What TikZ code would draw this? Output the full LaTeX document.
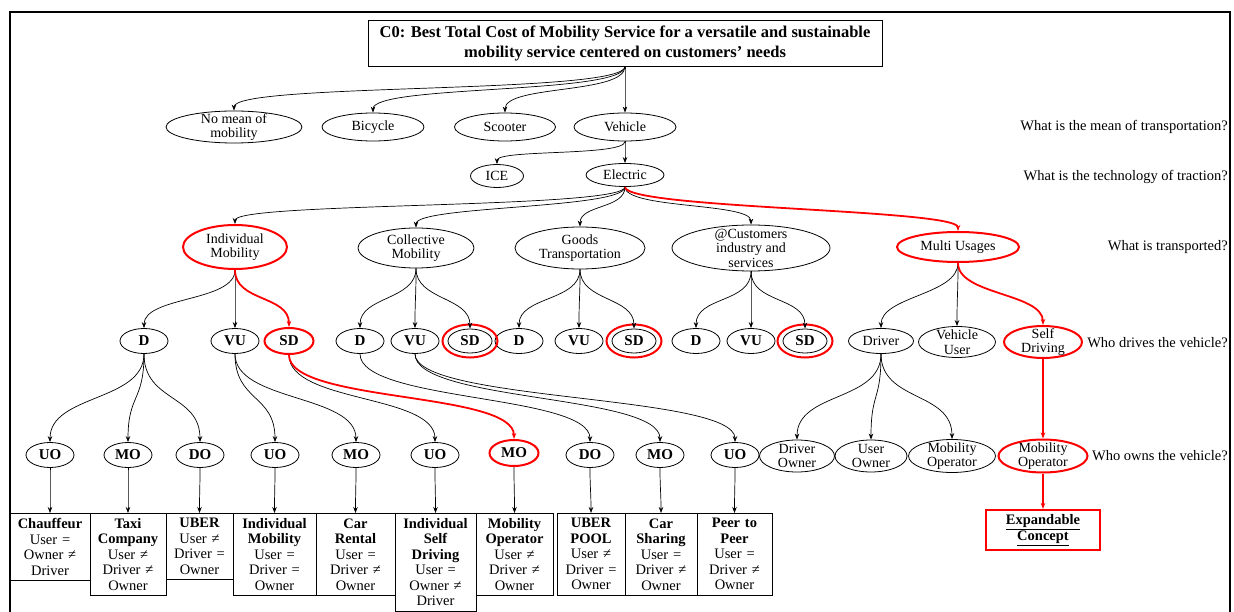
\documentclass[tikz,border=0pt]{standalone}
\usepackage{fontspec}
\setmainfont{Liberation Serif}
\usetikzlibrary{shapes.geometric,arrows.meta}
\tikzset{
  el/.style={draw, ellipse, inner sep=0pt, line width=0.8pt},
  hl/.style={draw=red, line width=2pt},
  lab/.style={font=\fontsize{14}{14.5}\selectfont, align=center, inner sep=0pt},
  ed/.style={draw=black, line width=0.7pt, -{Stealth[length=6pt,width=4.5pt]}},
  rd/.style={ed, draw=red, line width=1.8pt},
  bx/.style={draw, line width=0.8pt, anchor=north, align=center, inner xsep=1pt, inner ysep=5pt, font=\fontsize{14.5}{15.5}\selectfont},
  qn/.style={anchor=east, inner sep=0pt, font=\fontsize{14.5}{15}\selectfont},
}
\newcommand{\Ell}[7][]{\node[el, minimum width=#5pt, minimum height=#6pt, #1] (#2) at (#3,#4) {};\node[lab] (#2-t) at (#2.center) {#7};}
\newcommand{\Cv}[4][ed]{\draw[#1] (#2.south) .. controls +(0,#4) and +(0,-#4) .. (#3.north);}
\newcommand{\B}[1]{{\fontsize{15}{15}\selectfont\bfseries #1}}
\begin{document}
\begin{tikzpicture}[x=1pt,y=-1pt]
\useasboundingbox (0,0) rectangle (1234,612);
\draw[line width=2.5pt] (10,625) -- (10,12) -- (1230,12) -- (1230,625);

% root
\node[draw, line width=0.9pt, minimum width=514pt, minimum height=46pt, align=center,
      font=\fontsize{16.5}{20}\selectfont\bfseries] (c0) at (625,43)
  {C0: Best Total Cost of Mobility Service for a versatile and sustainable\\mobility service centered on customers’ needs};

% row 1
\Ell{nomob}{234}{127}{136}{32}{No mean of\\mobility}
\Ell{bic}{373}{127}{102}{28}{Bicycle}
\Ell{sco}{505}{127}{101}{28}{Scooter}
\Ell{veh}{625}{127}{102}{28}{Vehicle}
% row 2
\Ell{ice}{497}{176}{53}{23}{ICE}
\Ell{ele}{625}{175}{78}{23}{Electric}
% row 3
\Ell[hl]{ind}{235}{247}{104}{44}{Individual\\Mobility}
\Ell{col}{416}{248}{116}{40}{Collective\\Mobility}
\Ell{goo}{580}{248}{130}{42}{Goods\\Transportation}
\Ell{cus}{751}{248}{158}{46}{@Customers\\industry and\\services}
\Ell[hl]{mul}{958}{247}{122}{30}{Multi Usages}
% row 4
\Ell{d1}{144}{341}{48}{25}{\B{D}}
\Ell{vu1}{235}{341}{48}{25}{\B{VU}}
\Ell[hl]{sd1}{289}{341}{49}{26}{\B{SD}}
\Ell{d2}{360}{341}{48}{25}{\B{D}}
\Ell{vu2}{415}{341}{48}{25}{\B{VU}}
\Ell{sd2}{470}{341}{44}{24}{\B{SD}}
\Ell{d3}{519}{341}{48}{25}{\B{D}}
\Ell{vu3}{579}{341}{48}{25}{\B{VU}}
\Ell{sd3}{634}{341}{44}{24}{\B{SD}}
\Ell{d4}{696}{341}{48}{25}{\B{D}}
\Ell{vu4}{751}{341}{48}{25}{\B{VU}}
\Ell{sd4}{805}{341}{44}{24}{\B{SD}}
\draw[hl] (sd2.center) ellipse [x radius=27.5pt, y radius=16.5pt];
\draw[hl] (sd3.center) ellipse [x radius=27.5pt, y radius=16.5pt];
\draw[hl] (sd4.center) ellipse [x radius=27.5pt, y radius=16.5pt];
\Ell{drv}{881}{341}{65}{25}{Driver}
\Ell{vus}{957}{342}{77}{31}{Vehicle\\User}
\Ell[hl]{sdr}{1043}{342}{78}{32}{Self\\Driving}
% row 5
\Ell{uo1}{50}{455}{48}{25}{\B{UO}}
\Ell{mo1}{128}{455}{48}{25}{\B{MO}}
\Ell{do1}{200}{455}{48}{25}{\B{DO}}
\Ell{uo2}{275}{455}{48}{25}{\B{UO}}
\Ell{mo2}{356}{455}{48}{25}{\B{MO}}
\Ell{uo3}{435}{455}{48}{25}{\B{UO}}
\Ell[hl]{mo3}{514}{453}{49}{26}{\B{MO}}
\Ell{do2}{590}{455}{48}{25}{\B{DO}}
\Ell{mo4}{660}{455}{48}{25}{\B{MO}}
\Ell{uo4}{735}{455}{48}{25}{\B{UO}}
\Ell{dow}{797}{456}{75}{32}{Driver\\Owner}
\Ell{uow}{871}{456}{72}{32}{User\\Owner}
\Ell{mop}{952}{456}{87}{33}{Mobility\\Operator}
\Ell[hl]{mor}{1043}{456}{89}{33}{Mobility\\Operator}

% boxes
\node[bx, text width=78pt] (b1) at (50,513) {\textbf{Chauffeur}\\User =\\Owner ≠\\Driver};
\node[bx, text width=74pt] (b2) at (128,513) {\textbf{Taxi}\\\textbf{Company}\\User ≠\\Driver ≠\\Owner};
\node[bx, text width=65pt] (b3) at (199.5,513) {\textbf{UBER}\\User ≠\\Driver =\\Owner};
\node[bx, text width=81pt] (b4) at (274.5,513) {\textbf{Individual}\\\textbf{Mobility}\\User =\\Driver =\\Owner};
\node[bx, text width=77pt] (b5) at (355.5,513) {\textbf{Car}\\\textbf{Rental}\\User =\\Driver ≠\\Owner};
\node[bx, text width=79pt] (b6) at (435.5,513) {\textbf{Individual}\\\textbf{Self}\\\textbf{Driving}\\User =\\Owner ≠\\Driver};
\node[bx, text width=75pt] (b7) at (514.5,513) {\textbf{Mobility}\\\textbf{Operator}\\User ≠\\Driver ≠\\Owner};
\node[bx, text width=66pt] (b8) at (591,513) {\textbf{UBER}\\\textbf{POOL}\\User ≠\\Driver =\\Owner};
\node[bx, text width=70pt] (b9) at (661,513) {\textbf{Car}\\\textbf{Sharing}\\User =\\Driver ≠\\Owner};
\node[bx, text width=73pt] (b10) at (734.5,513) {\textbf{Peer to}\\\textbf{Peer}\\User =\\Driver ≠\\Owner};
\node[draw=red, line width=2.2pt, minimum width=114pt, minimum height=40pt, align=center,
      font=\fontsize{14.5}{16}\selectfont\bfseries] (exp) at (1043,530) {\underline{Expandable}\\\underline{Concept}};

% questions
\node[qn] (q1) at (1228,127) {What is the mean of transportation?};
\node[qn] (q2) at (1228,177) {What is the technology of traction?};
\node[qn] (q3) at (1228,247) {What is transported?};
\node[qn] (q4) at (1228,343) {Who drives the vehicle?};
\node[qn] (q5) at (1228,456) {Who owns the vehicle?};

% edges
\Cv{c0}{nomob}{28} \Cv{c0}{bic}{28} \Cv{c0}{sco}{28} \Cv{c0}{veh}{28}
\Cv{veh}{ice}{15} \Cv{veh}{ele}{15}
\Cv{ele}{ind}{22} \Cv{ele}{col}{22} \Cv{ele}{goo}{22} \Cv{ele}{cus}{22} \Cv[rd]{ele}{mul}{22}
\Cv{ind}{d1}{32} \Cv{ind}{vu1}{32} \Cv[rd]{ind}{sd1}{32}
\Cv{col}{d2}{32} \Cv{col}{vu2}{32} \Cv{col}{sd2}{32}
\Cv{goo}{d3}{32} \Cv{goo}{vu3}{32} \Cv{goo}{sd3}{32}
\Cv{cus}{d4}{32} \Cv{cus}{vu4}{32} \Cv{cus}{sd4}{32}
\Cv{mul}{drv}{32} \Cv{mul}{vus}{32} \Cv[rd]{mul}{sdr}{32}
\Cv{d1}{uo1}{48} \Cv{d1}{mo1}{48} \Cv{d1}{do1}{48}
\Cv{vu1}{uo2}{48} \Cv{vu1}{mo2}{48}
\Cv{sd1}{uo3}{48} \Cv[rd]{sd1}{mo3}{48}
\Cv{d2}{do2}{48}
\Cv{vu2}{mo4}{48} \Cv{vu2}{uo4}{48}
\Cv{drv}{dow}{48} \Cv{drv}{uow}{48} \Cv{drv}{mop}{48}
\Cv[rd]{sdr}{mor}{48}
\Cv{uo1}{b1}{20} \Cv{mo1}{b2}{20} \Cv{do1}{b3}{20} \Cv{uo2}{b4}{20} \Cv{mo2}{b5}{20}
\Cv{uo3}{b6}{20} \Cv{mo3}{b7}{20} \Cv{do2}{b8}{20} \Cv{mo4}{b9}{20} \Cv{uo4}{b10}{20}
\Cv[rd]{mor}{exp}{20}
\end{tikzpicture}
\end{document}
